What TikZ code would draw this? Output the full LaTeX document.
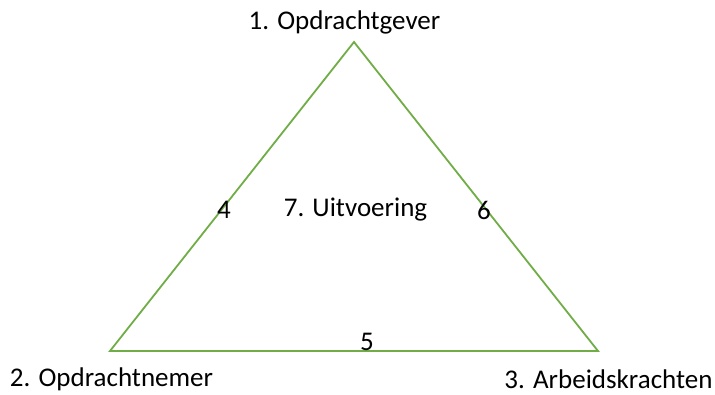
\documentclass[tikz,border=0pt]{standalone}
\usepackage{fontspec}
\setmainfont{Carlito}
\definecolor{tri}{HTML}{70AD47}
\begin{document}
\begin{tikzpicture}[x=1pt,y=-1pt,
  lbl/.style={inner sep=0pt,font=\fontsize{27}{32}\selectfont,text=black},
  edge/.style={draw=tri,line width=1.8pt}]
\useasboundingbox (0,0) rectangle (715,394);
\coordinate (A) at (354,42);
\coordinate (B) at (110,351);
\coordinate (C) at (598,351);
\draw[edge,line join=miter] (A) -- (B) -- (C) -- cycle;
\node[lbl] (n1) at (344.5,22) {1. Opdrachtgever};
\node[lbl] (n2) at (111.5,379.5) {2. Opdrachtnemer};
\node[lbl] (n3) at (608.5,379.5) {3. Arbeidskrachten};
\node[lbl] (n4) at (224,210) {4};
\node[lbl] (n6) at (484,210) {6};
\node[lbl] (n7) at (355.5,210) {7. Uitvoering};
\node[lbl] (n5) at (367,342) {5};
\end{tikzpicture}
\end{document}
